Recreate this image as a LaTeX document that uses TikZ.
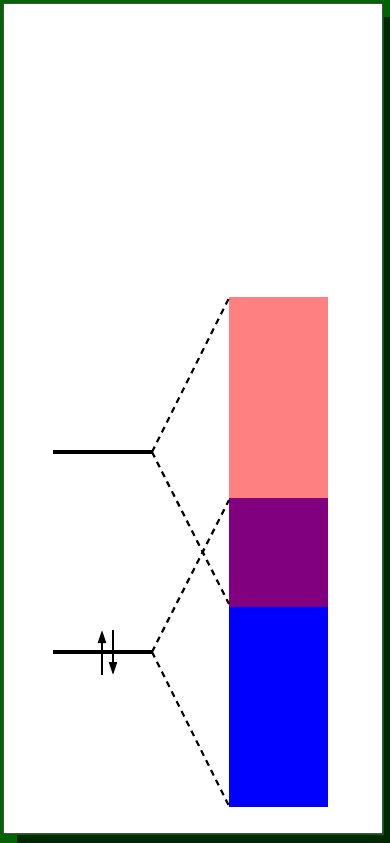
\documentclass[tikz,border=0pt]{standalone}
\usetikzlibrary{arrows.meta}
\definecolor{framegreen}{RGB}{0,100,0}
\definecolor{shadowgreen}{RGB}{0,40,0}
\definecolor{pinkband}{RGB}{255,128,128}
\definecolor{purpleband}{RGB}{128,0,128}
\definecolor{blueband}{RGB}{0,0,255}
\begin{document}
\begin{tikzpicture}[x=1pt,y=-1pt,
  level/.style={line width=4.5pt},
  conn/.style={line width=2.2pt,dash pattern=on 6pt off 5pt},
  spin/.style={line width=2pt,-{Triangle[length=13pt,width=8pt]}},
  band/.style={draw=none,inner sep=0pt,minimum width=99pt,anchor=north west}]
\useasboundingbox (0,0) rectangle (390,843);
% frame
\fill[framegreen] (0,0) rectangle (390,843);
\fill[shadowgreen] (17,17) rectangle (390,843);
\fill[framegreen] (0,0) rectangle (384,835);
\fill[white, draw=black!70, line width=0.5pt] (3.5,3.5) rectangle (382.5,833.5);
% bands
\node[band,fill=pinkband,minimum height=201pt] (pink) at (229,297) {};
\node[band,fill=purpleband,minimum height=109pt] (purple) at (229,498) {};
\node[band,fill=blueband,minimum height=200pt] (blue) at (229,607) {};
% levels
\coordinate (a1) at (53,452);
\coordinate (a2) at (152,452);
\coordinate (b1) at (53,652);
\coordinate (b2) at (152,652);
\draw[level] (a1) -- (a2);
\draw[level] (b1) -- (b2);
% connectors
\coordinate (p1) at (229,298);
\coordinate (p2) at (229,604);
\coordinate (q1) at (229,500);
\coordinate (q2) at (229,806);
\draw[conn] (a2) -- (p1);
\draw[conn] (a2) -- (p2);
\draw[conn] (b2) -- (q1);
\draw[conn] (b2) -- (q2);
% spins
\coordinate (u1) at (102,675);
\coordinate (u2) at (102,630);
\coordinate (d1) at (113,630);
\coordinate (d2) at (113,675);
\draw[spin] (u1) -- (u2);
\draw[spin] (d1) -- (d2);
\end{tikzpicture}
\end{document}
